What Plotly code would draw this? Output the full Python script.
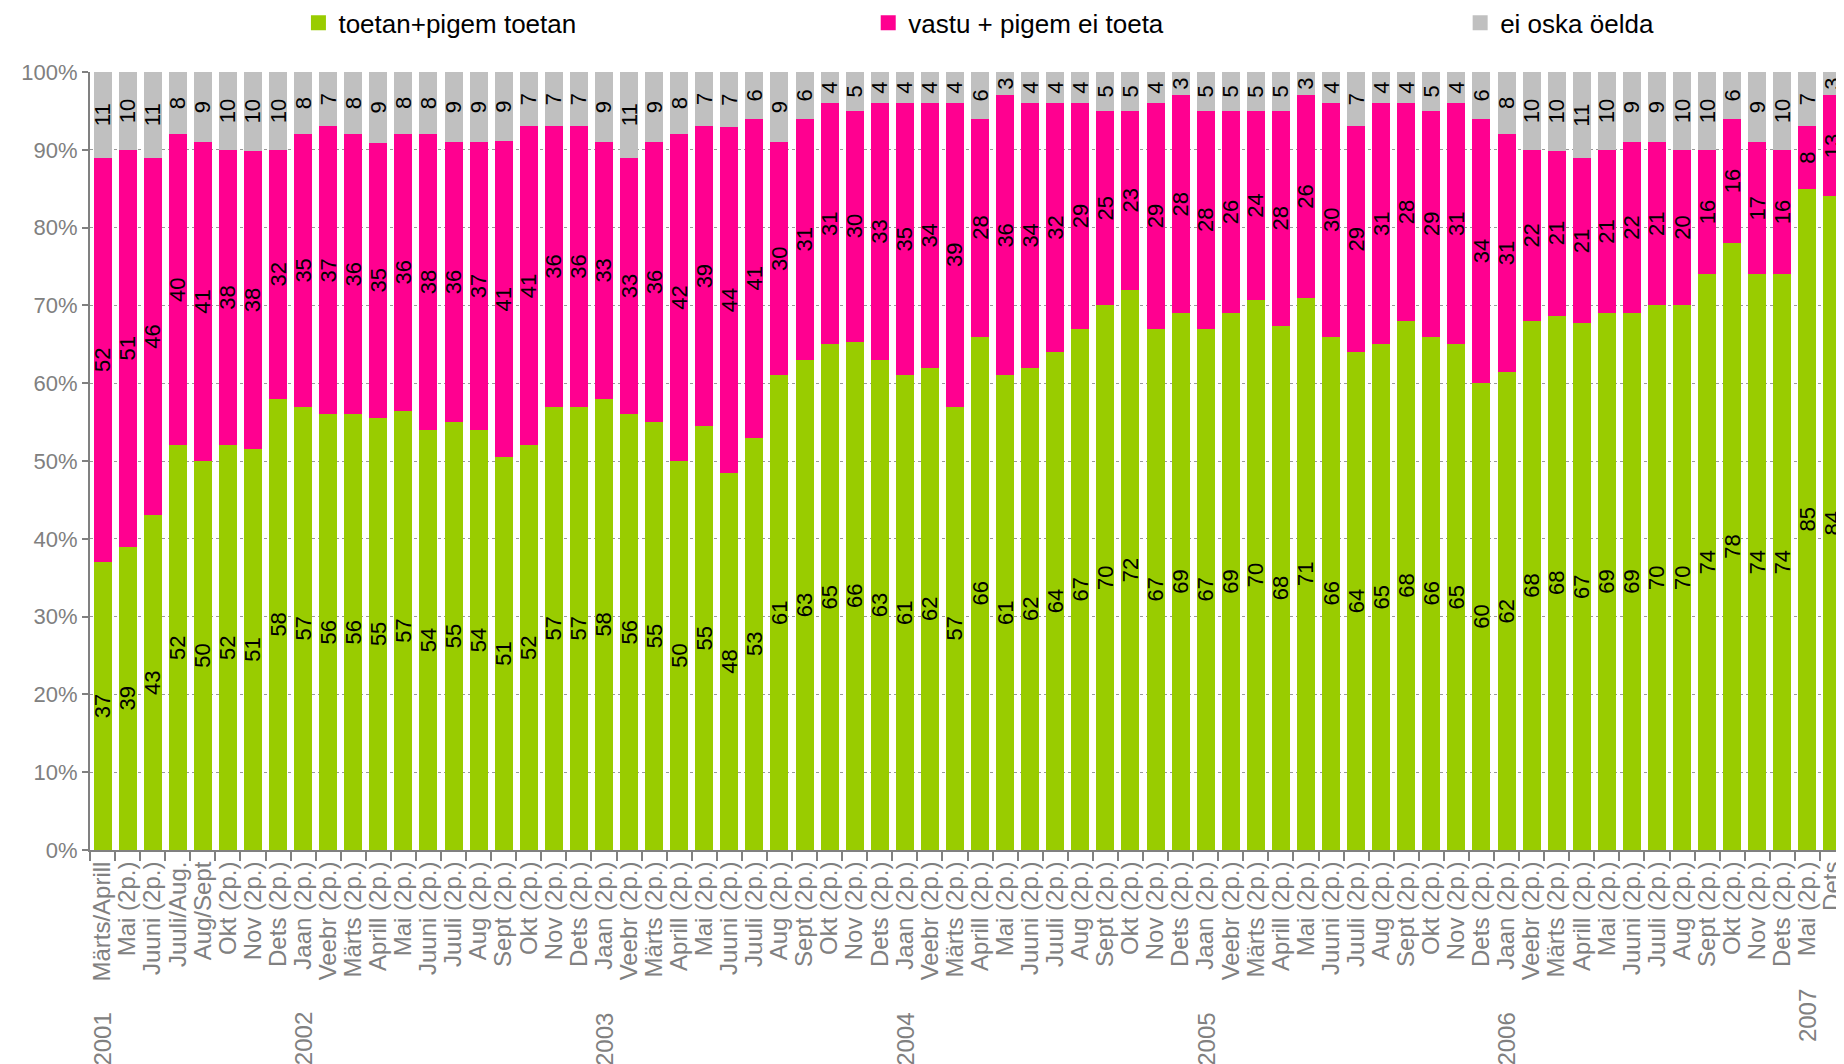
import plotly.graph_objects as go

years = (["2001"] * 8 + ["2002"] * 12 + ["2003"] * 12 + ["2004"] * 12 +
         ["2005"] * 12 + ["2006"] * 12 + ["2007"] * 2)

months = [
    "Märts/Aprill", "Mai (2p.)", "Juuni (2p.)", "Juuli/Aug.", "Aug/Sept", "Okt (2p.)", "Nov (2p.)", "Dets (2p.)",
    "Jaan (2p.)", "Veebr (2p.)", "Märts (2p.)", "Aprill (2p.)", "Mai (2p.)", "Juuni (2p.)", "Juuli (2p.)", "Aug (2p.)", "Sept (2p.)", "Okt (2p.)", "Nov (2p.)", "Dets (2p.)",
    "Jaan (2p.)", "Veebr (2p.)", "Märts (2p.)", "Aprill (2p.)", "Mai (2p.)", "Juuni (2p.)", "Juuli (2p.)", "Aug (2p.)", "Sept (2p.)", "Okt (2p.)", "Nov (2p.)", "Dets (2p.)",
    "Jaan (2p.)", "Veebr (2p.)", "Märts (2p.)", "Aprill (2p.)", "Mai (2p.)", "Juuni (2p.)", "Juuli (2p.)", "Aug (2p.)", "Sept (2p.)", "Okt (2p.)", "Nov (2p.)", "Dets (2p.)",
    "Jaan (2p.)", "Veebr (2p.)", "Märts (2p.)", "Aprill (2p.)", "Mai (2p.)", "Juuni (2p.)", "Juuli (2p.)", "Aug (2p.)", "Sept (2p.)", "Okt (2p.)", "Nov (2p.)", "Dets (2p.)",
    "Jaan (2p.)", "Veebr (2p.)", "Märts (2p.)", "Aprill (2p.)", "Mai (2p.)", "Juuni (2p.)", "Juuli (2p.)", "Aug (2p.)", "Sept (2p.)", "Okt (2p.)", "Nov (2p.)", "Dets (2p.)",
    "Mai (2p.)", "Dets",
]

toetan = [37, 39, 43, 52, 50, 52, 51, 58,
          57, 56, 56, 55, 57, 54, 55, 54, 51, 52, 57, 57,
          58, 56, 55, 50, 55, 48, 53, 61, 63, 65, 66, 63,
          61, 62, 57, 66, 61, 62, 64, 67, 70, 72, 67, 69,
          67, 69, 70, 68, 71, 66, 64, 65, 68, 66, 65, 60,
          62, 68, 68, 67, 69, 69, 70, 70, 74, 78, 74, 74,
          85, 84]

vastu = [52, 51, 46, 40, 41, 38, 38, 32,
         35, 37, 36, 35, 36, 38, 36, 37, 41, 41, 36, 36,
         33, 33, 36, 42, 39, 44, 41, 30, 31, 31, 30, 33,
         35, 34, 39, 28, 36, 34, 32, 29, 25, 23, 29, 28,
         28, 26, 24, 28, 26, 30, 29, 31, 28, 29, 31, 34,
         31, 22, 21, 21, 21, 22, 21, 20, 16, 16, 17, 16,
         8, 13]

ei_oska = [11, 10, 11, 8, 9, 10, 10, 10,
           8, 7, 8, 9, 8, 8, 9, 9, 9, 7, 7, 7,
           9, 11, 9, 8, 7, 7, 6, 9, 6, 4, 5, 4,
           4, 4, 4, 6, 3, 4, 4, 4, 5, 5, 4, 3,
           5, 5, 5, 5, 3, 4, 7, 4, 4, 5, 4, 6,
           8, 10, 10, 11, 10, 9, 9, 10, 10, 6, 9, 10,
           7, 3]

series = [
    ("toetan+pigem toetan", toetan, "#99CC00"),
    ("vastu + pigem ei toeta", vastu, "#FF0090"),
    ("ei oska öelda", ei_oska, "#C0C0C0"),
]

FONT = "Arial, Liberation Sans, sans-serif"
GRAY = "#808080"

x = list(range(len(months)))
legend_ids = ["legend", "legend2", "legend3"]
legend_x = [0.1575, 0.4665, 0.7875]

fig = go.Figure()
for (name, vals, color), lid in zip(series, legend_ids):
    fig.add_trace(go.Bar(
        x=x, y=vals, name=name, marker_color=color, marker_line_width=0,
        text=vals, texttemplate="%{text}", textposition="inside",
        insidetextanchor="middle", textangle=-90, constraintext="none",
        textfont=dict(family=FONT, size=22, color="black"),
        showlegend=False,
    ))
    # legend-only entry with a larger square swatch
    fig.add_trace(go.Scatter(
        x=[None], y=[None], mode="markers", name=name,
        marker=dict(symbol="square", size=15, color=color),
        legend=lid, showlegend=True, hoverinfo="skip",
    ))

# year group labels
annotations = []
starts = [i for i in range(len(years)) if i == 0 or years[i] != years[i - 1]]
for k, i in enumerate(starts):
    last = k == len(starts) - 1
    annotations.append(dict(
        x=i, xref="x", y=-0.213 if last else -0.243, yref="paper",
        text=years[i], showarrow=False, textangle=-90,
        xanchor="center", yanchor="middle",
        font=dict(family=FONT, size=24, color=GRAY),
    ))

legend_common = dict(orientation="h", xref="container", yref="container",
                     y=0.986, xanchor="left", yanchor="middle",
                     bgcolor="rgba(0,0,0,0)",
                     font=dict(family=FONT, size=26, color="black"))

fig.update_layout(
    width=1844, height=1064,
    margin=dict(l=82, r=7, t=64, b=222, autoexpand=False),
    barmode="stack", barnorm="percent", bargap=0.28,
    plot_bgcolor="white", paper_bgcolor="white",
    font=dict(family=FONT, size=20, color=GRAY),
    showlegend=True,
    legend=dict(x=legend_x[0], **legend_common),
    legend2=dict(x=legend_x[1], **legend_common),
    legend3=dict(x=legend_x[2], **legend_common),
    annotations=annotations,
)

fig.update_xaxes(
    range=[-0.5, len(months) - 0.5],
    tickmode="array", tickvals=x, ticktext=months, tickangle=-90,
    ticks="", showgrid=False, zeroline=False,
    showline=True, linecolor=GRAY, linewidth=2,
    tickfont=dict(family=FONT, size=24, color=GRAY),
    minor=dict(tick0=-0.5, dtick=1, ticks="outside", ticklen=9,
               tickcolor=GRAY, tickwidth=1.5, showgrid=False),
)

fig.update_yaxes(
    range=[0, 100], dtick=10, ticksuffix="%",
    ticks="outside", ticklen=6, tickcolor=GRAY, tickwidth=1.5,
    showgrid=True, gridcolor="#999999", griddash="3px,3px", gridwidth=1,
    zeroline=False, showline=True, linecolor=GRAY, linewidth=2, mirror=True,
    tickfont=dict(family=FONT, size=22, color=GRAY),
)

fig.write_html("out.html")
